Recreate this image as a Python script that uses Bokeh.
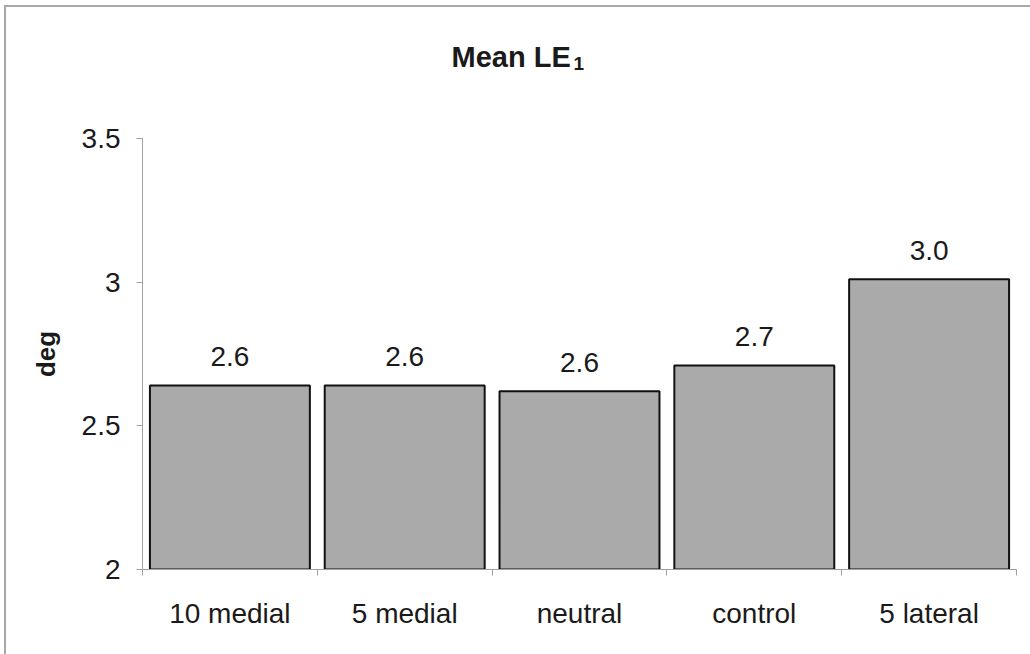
from bokeh.plotting import figure
from bokeh.layouts import column
from bokeh.models import (ColumnDataSource, Range1d, FixedTicker, LinearAxis,
                          NumeralTickFormatter, LabelSet, Label)
from bokeh.core.properties import value
from bokeh.embed import file_html
from bokeh.resources import INLINE

# Mean LE1 per condition (deg)
categories = ["10 medial", "5 medial", "neutral", "control", "5 lateral"]
mean_le1 = [2.64, 2.64, 2.62, 2.71, 3.01]
y_ticks = [2, 2.5, 3, 3.5]

FONT = "Liberation Sans"
AXIS_GREY = "#a0a0a0"
TEXT = "#1a1a1a"

xs = list(range(len(categories)))
bounds = [i - 0.5 for i in range(len(categories) + 1)]
labels = [f"{v:.1f}" for v in mean_le1]

src = ColumnDataSource(dict(x=xs, top=mean_le1, label=labels))

W = 1024
HEAD_H = 111
MAIN_H = 536
x_range = Range1d(-0.5, len(categories) - 0.5)

# heading strip: "Mean LE" with a lowered, smaller "1"
head = figure(width=W, height=HEAD_H, output_backend="svg", toolbar_location=None,
              x_range=x_range, y_range=Range1d(0, 1),
              x_axis_type=None, y_axis_type=None,
              min_border_left=136, min_border_right=14,
              min_border_top=0, min_border_bottom=0)
head.outline_line_color = None
head.xgrid.visible = False
head.ygrid.visible = False
head.background_fill_color = "white"
head.border_fill_color = "white"
head.add_layout(Label(x=1.268, y=0.55, text="Mean LE",
                      text_font=FONT, text_font_size="29px",
                      text_font_style="bold", text_color=TEXT,
                      text_align="left", text_baseline="alphabetic"))
head.add_layout(Label(x=1.965, y=0.495, text="1",
                      text_font=FONT, text_font_size="19px",
                      text_font_style="bold", text_color=TEXT,
                      text_align="left", text_baseline="alphabetic"))

p = figure(width=W, height=MAIN_H, output_backend="svg", toolbar_location=None,
           x_range=x_range, y_range=Range1d(y_ticks[0], y_ticks[-1]),
           x_axis_type=None, y_axis_type=None,
           min_border_left=136, min_border_right=14,
           min_border_top=20, min_border_bottom=85)
p.outline_line_color = None
p.xgrid.visible = False
p.ygrid.visible = False
p.background_fill_color = "white"
p.border_fill_color = "white"

p.vbar(x="x", top="top", bottom=y_ticks[0], width=0.915, source=src,
       fill_color="#aaaaaa", line_color="#111111", line_width=2)

p.add_layout(LabelSet(x="x", y="top", text="label", source=src,
                      y_offset=29, text_align="center", text_baseline="middle",
                      text_font=value(FONT), text_font_size=value("28px"),
                      text_color=TEXT))

# category axis: names under bars, ticks at boundaries between bars
xaxis = LinearAxis(ticker=FixedTicker(ticks=xs, minor_ticks=bounds),
                   major_label_overrides={i: c for i, c in enumerate(categories)})
xaxis.axis_line_color = AXIS_GREY
xaxis.major_tick_line_color = None
xaxis.major_tick_out = 0
xaxis.major_tick_in = 0
xaxis.minor_tick_line_color = AXIS_GREY
xaxis.minor_tick_out = 6
xaxis.minor_tick_in = 0
xaxis.major_label_standoff = 22
xaxis.major_label_text_font = FONT
xaxis.major_label_text_font_size = "28px"
xaxis.major_label_text_color = TEXT
p.add_layout(xaxis, "below")

yaxis = LinearAxis(ticker=FixedTicker(ticks=y_ticks, minor_ticks=[]),
                   formatter=NumeralTickFormatter(format="0.[0]"),
                   axis_label="deg")
yaxis.axis_line_color = AXIS_GREY
yaxis.major_tick_line_color = AXIS_GREY
yaxis.major_tick_out = 6
yaxis.major_tick_in = 0
yaxis.minor_tick_line_color = None
yaxis.major_label_standoff = 16
yaxis.major_label_text_font = FONT
yaxis.major_label_text_font_size = "28px"
yaxis.major_label_text_color = TEXT
yaxis.axis_label_standoff = 18
yaxis.axis_label_text_font = FONT
yaxis.axis_label_text_font_size = "26px"
yaxis.axis_label_text_font_style = "bold"
yaxis.axis_label_text_color = TEXT
p.add_layout(yaxis, "left")

page = column(head, p, spacing=0,
              styles={"margin-left": "4px", "margin-top": "5px",
                      "border-left": "2px solid #a8a8a8",
                      "border-top": "2px solid #a8a8a8"})

open("out.html", "w").write(file_html(page, INLINE))
